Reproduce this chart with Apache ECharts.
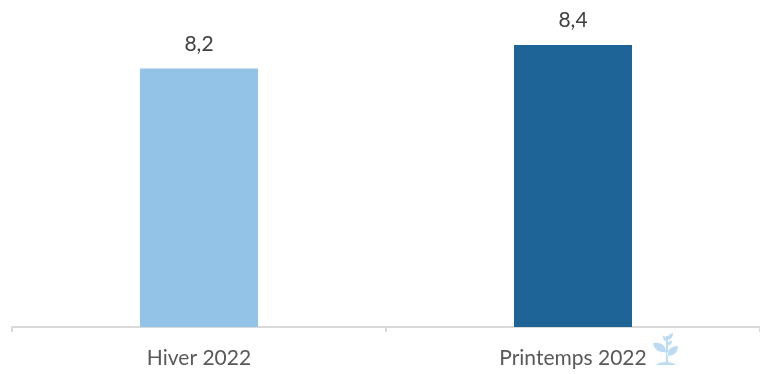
<!DOCTYPE html>
<html>
<head>
<meta charset="utf-8">
<style>html,body{margin:0;padding:0;background:#fff}#chart{width:760px;height:374px}</style>
<script src="https://cdn.jsdelivr.net/npm/echarts@6/dist/echarts.min.js"></script>
</head>
<body>
<div id="chart"></div>
<script>
var categories = ['Hiver 2022', 'Printemps 2022'];
var values = [8.2, 8.4];
var barColors = ['#93c4e8', '#1f6496'];

// petite pousse a cote du label
var plant = 'M14 30 L14 3 L16 3 L16 30 Z M14 19 C8 20 2 17 1 10 C8 9 14 12 14 19 Z M15 23 C21 23 26 20 26 13 C20 13 15 16 15 23 Z M15 7 C15 4 17 1 21 0 C21 4 19 7 15 7 Z M15 8 C12 8 11 6 11 3 C13 3 15 5 15 8 Z M15 12 C16 9 18 7 20 8 C20 11 18 13 15 12 Z M4 32 C7 28 20 28 24 32 Z';
var plantSvg = '<svg xmlns="http://www.w3.org/2000/svg" width="27" height="33" viewBox="0 0 27 33"><path d="' + plant + '" fill="#bcdcf3"/></svg>';

var chart = echarts.init(document.getElementById('chart'));
chart.setOption({
    animation: false,
    grid: {left: 12, right: 0, top: 45, bottom: 47},
    xAxis: {type: 'category', data: categories,
        axisLine: {lineStyle: {color: '#d9d9d9', width: 2}},
        axisTick: {show: true, length: 5, lineStyle: {color: '#d9d9d9', width: 2}},
        axisLabel: {color: '#595959', fontFamily: 'Lato', fontSize: 21, margin: 21}},
    yAxis: {type: 'value', min: 6, max: 8.4, show: false},
    series: [{type: 'bar', barWidth: 118,
        data: values.map(function (v, i) {return {value: v, itemStyle: {color: barColors[i]}};}),
        label: {show: true, position: 'top', distance: 14, color: '#404040', fontFamily: 'Lato', fontSize: 21,
            formatter: function (p) {return String(p.value).replace('.', ',');}}}],
    graphic: [{type: 'image', x: 652, y: 333,
        style: {image: 'data:image/svg+xml;charset=utf-8,' + encodeURIComponent(plantSvg), width: 27, height: 33}}]
});
</script>
</body>
</html>
